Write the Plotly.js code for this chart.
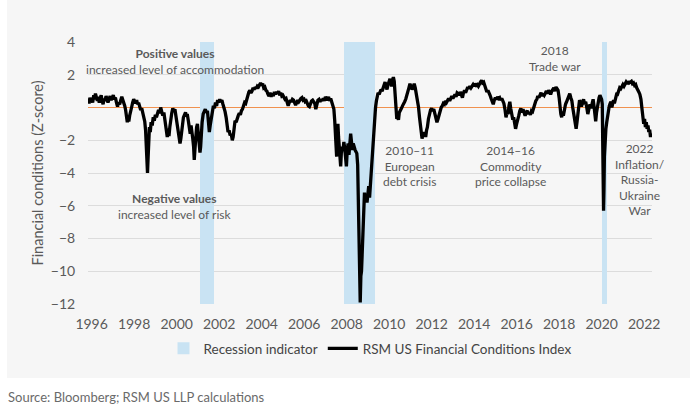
<!DOCTYPE html>
<html>
<head>
<meta charset="utf-8">
<script src="https://cdn.plot.ly/plotly-3.0.1.min.js"></script>
<style>html,body{margin:0;padding:0;background:#fff;}#chart{width:700px;height:413px;}</style>
</head>
<body>
<div id="chart"></div>
<script>
// Recession periods (decimal years)
const recessionStart = [2001.12, 2007.86, 2020.04];
const recessionEnd   = [2001.78, 2009.32, 2020.25];

// RSM US Financial Conditions Index (decimal year, z-score)
const fciYear = [
1995.84,1995.88,1995.92,1995.96,1996.0,1996.05,1996.1,1996.14,1996.18,1996.22,1996.27,1996.31,1996.36,1996.4,1996.45,1996.5,1996.54,1996.59,1996.63,1996.68,1996.72,1996.77,1996.82,1996.87,1996.92,1996.97,1997.02,1997.07,1997.12,1997.17,1997.22,1997.27,1997.32,1997.37,1997.42,1997.47,1997.52,1997.56,
1997.6,1997.64,1997.68,1997.71,1997.75,1997.79,1997.84,1997.88,1997.93,1997.98,1998.02,1998.07,1998.12,1998.16,1998.21,1998.26,1998.31,1998.36,1998.41,1998.46,1998.5,1998.54,1998.57,1998.6,1998.63,1998.66,1998.69,1998.72,1998.76,1998.8,1998.85,1998.9,1998.95,1999.0,1999.05,1999.1,1999.15,1999.2,1999.25,1999.3,1999.35,1999.4,1999.44,1999.48,1999.52,1999.56,1999.6,1999.64,1999.68,1999.72,1999.77,1999.82,1999.87,1999.92,1999.96,
2000.0,2000.04,2000.08,2000.12,2000.16,2000.2,2000.24,2000.28,2000.32,2000.37,2000.42,2000.46,2000.5,2000.55,2000.6,2000.64,2000.68,2000.72,2000.76,2000.8,2000.83,2000.86,2000.9,2000.94,2000.98,2001.02,2001.06,2001.1,2001.13,2001.16,2001.2,2001.25,2001.3,2001.35,2001.4,2001.45,2001.5,2001.54,2001.58,2001.63,2001.68,2001.73,2001.78,2001.83,2001.88,2001.93,2001.98,
2002.03,2002.08,2002.13,2002.18,2002.23,2002.28,2002.33,2002.38,2002.42,2002.47,2002.52,2002.57,2002.62,2002.66,2002.7,2002.75,2002.8,2002.85,2002.9,2002.95,2003.0,2003.05,2003.1,2003.15,2003.2,2003.25,2003.3,2003.35,2003.4,2003.45,2003.5,2003.55,2003.6,2003.65,2003.7,2003.75,2003.8,2003.85,2003.9,2003.95,
2004.0,2004.05,2004.1,2004.15,2004.2,2004.25,2004.3,2004.35,2004.4,2004.45,2004.5,2004.55,2004.6,2004.65,2004.7,2004.75,2004.8,2004.85,2004.9,2004.95,2005.0,2005.05,2005.1,2005.15,2005.2,2005.25,2005.3,2005.35,2005.4,2005.45,2005.5,2005.55,2005.6,2005.65,2005.7,2005.75,2005.8,2005.85,2005.9,2005.95,
2006.0,2006.05,2006.1,2006.15,2006.2,2006.25,2006.3,2006.35,2006.4,2006.45,2006.5,2006.55,2006.6,2006.65,2006.7,2006.75,2006.8,2006.85,2006.9,2006.95,2007.0,2007.05,2007.1,2007.15,2007.2,2007.25,2007.3,2007.35,2007.4,2007.44,2007.47,2007.5,2007.53,2007.56,2007.59,2007.62,2007.65,2007.68,2007.72,2007.75,2007.79,2007.83,2007.87,2007.91,2007.95,2007.99,
2008.03,2008.07,2008.11,2008.15,2008.19,2008.23,2008.27,2008.31,2008.35,2008.4,2008.44,2008.48,2008.52,2008.55,2008.58,2008.61,2008.64,2008.67,2008.7,2008.73,2008.76,2008.8,2008.84,2008.88,2008.92,2008.96,2009.0,2009.04,2009.08,2009.12,2009.16,2009.2,2009.24,2009.28,2009.32,2009.36,2009.4,2009.44,2009.48,2009.53,2009.57,2009.62,2009.67,2009.72,2009.77,2009.81,2009.86,2009.9,2009.95,
2010.0,2010.04,2010.08,2010.12,2010.16,2010.2,2010.24,2010.28,2010.32,2010.36,2010.4,2010.44,2010.48,2010.53,2010.58,2010.63,2010.68,2010.73,2010.78,2010.83,2010.88,2010.93,2010.98,2011.03,2011.08,2011.13,2011.18,2011.23,2011.28,2011.33,2011.38,2011.43,2011.47,2011.51,2011.55,2011.59,2011.63,2011.67,2011.72,2011.76,2011.8,2011.85,2011.9,2011.95,
2012.0,2012.05,2012.1,2012.15,2012.2,2012.25,2012.3,2012.35,2012.4,2012.45,2012.5,2012.55,2012.6,2012.65,2012.7,2012.75,2012.8,2012.85,2012.9,2012.95,2013.0,2013.05,2013.1,2013.15,2013.2,2013.25,2013.3,2013.35,2013.4,2013.45,2013.5,2013.55,2013.6,2013.65,2013.7,2013.75,2013.8,2013.85,2013.9,2013.95,
2014.0,2014.05,2014.1,2014.15,2014.2,2014.25,2014.3,2014.35,2014.4,2014.45,2014.5,2014.55,2014.6,2014.65,2014.7,2014.75,2014.8,2014.85,2014.9,2014.95,2015.0,2015.05,2015.1,2015.15,2015.2,2015.25,2015.3,2015.35,2015.4,2015.45,2015.5,2015.55,2015.6,2015.64,2015.68,2015.72,2015.77,2015.82,2015.86,2015.9,2015.95,
2016.0,2016.05,2016.1,2016.15,2016.2,2016.25,2016.3,2016.35,2016.4,2016.45,2016.5,2016.55,2016.6,2016.65,2016.7,2016.75,2016.8,2016.85,2016.9,2016.95,2017.0,2017.05,2017.1,2017.15,2017.2,2017.25,2017.3,2017.35,2017.4,2017.45,2017.5,2017.55,2017.6,2017.65,2017.7,2017.75,2017.8,2017.85,2017.9,2017.95,
2018.0,2018.04,2018.08,2018.12,2018.16,2018.2,2018.25,2018.3,2018.35,2018.4,2018.45,2018.5,2018.55,2018.6,2018.64,2018.68,2018.72,2018.76,2018.8,2018.84,2018.88,2018.92,2018.96,2019.0,2019.05,2019.1,2019.15,2019.2,2019.25,2019.3,2019.35,2019.4,2019.45,2019.5,2019.55,2019.6,2019.64,2019.68,2019.72,2019.76,2019.8,2019.84,2019.88,2019.92,2019.96,
2020.0,2020.03,2020.05,2020.07,2020.09,2020.11,2020.13,2020.16,2020.2,2020.24,2020.28,2020.32,2020.36,2020.4,2020.44,2020.48,2020.52,2020.56,2020.6,2020.64,2020.68,2020.72,2020.76,2020.8,2020.85,2020.9,2020.95,
2021.0,2021.05,2021.1,2021.15,2021.2,2021.25,2021.3,2021.35,2021.4,2021.45,2021.5,2021.55,2021.6,2021.65,2021.7,2021.75,2021.8,2021.85,2021.9,2021.94,2021.98,2022.02,2022.06,2022.1,2022.14,2022.18,2022.22,2022.26,2022.3,2022.33,2022.36
];
const fciValue = [
0.45,0.25,0.6,0.35,0.55,0.3,0.75,0.5,0.85,0.55,0.4,0.65,0.3,0.55,0.75,0.4,0.2,0.55,0.4,0.7,0.55,0.3,0.5,0.7,0.45,0.6,0.75,0.5,0.6,0.3,0.05,0.3,0.2,0.45,0.65,0.45,0.3,0.1,
-0.15,-0.5,-0.9,-0.6,-0.85,-0.5,-0.3,0.0,0.3,0.5,0.4,0.25,0.45,0.2,0.3,0.05,-0.15,-0.05,-0.3,-0.55,-0.85,-1.4,-2.3,-3.2,-4.0,-3.0,-2.0,-1.2,-1.5,-0.9,-1.1,-0.6,-0.8,-0.45,-0.6,-0.3,-0.15,-0.35,0.0,-0.25,-0.5,-0.3,-0.7,-1.1,-1.5,-1.8,-1.3,-1.75,-1.2,-0.7,-0.35,-0.05,-0.25,-0.1,-0.45,
-0.6,-0.9,-1.4,-1.8,-2.2,-1.9,-1.5,-0.9,-0.6,-0.45,-0.3,-0.55,-0.4,-0.8,-1.2,-1.6,-1.1,-1.4,-1.9,-2.4,-3.2,-2.6,-1.8,-1.2,-1.0,-1.6,-2.2,-2.75,-2.4,-1.6,-0.9,-0.4,-0.2,-0.1,-0.3,-0.2,-0.9,-1.5,-1.1,-0.6,-0.3,0.1,-0.05,0.3,0.1,0.45,0.3,
0.5,0.35,0.45,0.2,0.0,-0.25,-0.6,-1.2,-1.5,-1.4,-1.7,-1.6,-2.0,-1.8,-1.3,-0.8,-0.9,-0.6,-0.5,-0.35,-0.45,-0.2,-0.1,0.1,0.3,0.25,0.55,0.75,0.95,1.05,0.9,1.0,1.2,1.1,1.25,1.15,1.3,1.25,1.4,1.5,
1.35,1.45,1.2,1.25,1.05,1.0,0.8,0.7,0.9,0.65,0.85,0.7,0.95,0.8,0.95,0.85,1.0,0.75,0.9,0.7,0.75,0.6,0.5,0.55,0.3,0.1,0.3,0.45,0.35,0.5,0.45,0.3,0.15,0.3,0.45,0.35,0.5,0.55,0.6,0.45,
0.5,0.35,0.4,0.2,0.1,0.05,0.25,0.4,0.45,0.3,0.25,-0.1,0.2,0.45,0.5,0.35,0.5,0.4,0.55,0.4,0.65,0.5,0.45,0.65,0.4,0.55,0.3,0.15,-0.1,-0.8,-1.8,-2.6,-3.0,-1.4,-1.0,-1.8,-2.3,-3.0,-3.6,-2.8,-2.4,-2.6,-2.1,-2.5,-3.0,-3.6,
-2.6,-2.2,-2.9,-1.9,-1.6,-2.1,-2.6,-2.2,-2.5,-2.6,-2.7,-2.8,-3.5,-5.5,-8.0,-10.5,-11.9,-10.3,-10.0,-9.0,-7.5,-6.3,-5.2,-5.7,-5.4,-5.8,-5.2,-4.8,-5.5,-4.6,-3.8,-2.8,-1.9,-1.1,-0.5,0.0,0.4,0.7,0.9,0.8,1.0,1.1,1.0,1.2,1.5,1.55,1.3,1.1,1.4,
1.55,1.75,1.5,1.3,1.7,1.85,1.6,0.6,-0.3,-0.7,-0.55,-0.75,-0.3,-0.2,-0.05,0.1,0.2,0.35,0.5,0.8,0.95,1.2,1.45,1.3,1.1,1.25,1.45,1.2,0.85,0.4,0.05,-0.6,-1.2,-1.6,-1.9,-1.6,-1.75,-1.5,-1.8,-1.4,-1.2,-0.7,-0.3,-0.15,
-0.05,-0.2,-0.1,-0.35,-0.55,-0.9,-0.7,-0.4,-0.2,0.0,0.1,0.25,0.2,0.4,0.3,0.45,0.55,0.4,0.6,0.7,0.55,0.75,0.8,0.65,0.9,0.85,0.75,0.95,0.7,0.6,0.9,1.05,0.9,1.1,1.25,1.15,1.3,1.2,1.35,1.4,
1.3,1.45,1.35,1.4,1.3,1.5,1.55,1.65,1.5,1.55,1.3,1.1,0.95,1.05,0.8,0.75,0.55,0.35,0.2,0.45,0.6,0.5,0.65,0.55,0.6,0.45,0.55,0.4,0.25,-0.1,-0.6,-0.3,-0.4,0.1,0.35,-0.05,-0.4,-0.75,-0.6,-0.9,-1.3,
-1.0,-0.8,-0.5,-0.2,-0.05,-0.3,-0.1,-0.3,-0.5,-0.3,-0.2,-0.4,-0.3,-0.45,-0.2,-0.25,0.0,0.3,0.4,0.5,0.7,0.6,0.75,0.9,0.7,0.85,0.75,0.9,1.0,0.85,1.05,0.95,0.8,1.0,1.1,1.2,1.0,1.25,1.15,1.05,
0.6,0.0,-0.4,-0.6,-0.25,-0.5,-0.1,0.2,0.35,0.5,0.75,0.85,0.6,0.4,0.0,-0.3,-0.6,-0.9,-1.3,-0.9,-0.4,0.1,0.45,0.3,0.05,0.3,0.5,0.2,0.35,0.0,-0.4,-0.1,0.2,-0.05,0.3,0.5,0.1,-0.6,-0.85,-0.3,0.1,0.4,0.6,0.75,0.65,
0.5,0.2,-1.5,-4.0,-6.3,-5.0,-3.0,-1.8,-1.3,-0.9,-0.5,-0.2,0.1,0.25,0.35,0.0,0.2,0.45,0.25,0.5,0.7,0.9,0.85,1.1,1.2,1.15,1.3,
1.4,1.3,1.5,1.55,1.45,1.6,1.5,1.55,1.6,1.45,1.5,1.35,1.4,1.2,1.1,0.95,0.8,0.5,-0.1,-0.6,-1.0,-0.7,-1.2,-0.9,-1.3,-1.1,-1.5,-1.35,-1.8,-1.6,-1.8
];

const yTicks = [4, 2, -2, -4, -6, -8, -10, -12];
const xTicks = [1996,1998,2000,2002,2004,2006,2008,2010,2012,2014,2016,2018,2020,2022];

const axisMin = -12, axisMax = 4;
const recCenter = recessionStart.map((s, i) => (s + recessionEnd[i]) / 2);
const recWidth = recessionStart.map((s, i) => recessionEnd[i] - s);

const FONT = 'Lato, "Open Sans", sans-serif';
const GRAY = '#5a5a5a';

const traces = [
  {
    type: 'bar', name: 'Recession indicator',
    x: recCenter, width: recWidth,
    y: recCenter.map(() => axisMax - axisMin), base: axisMin,
    marker: {color: '#c9e3f3', line: {width: 0}},
    hoverinfo: 'skip'
  },
  {
    type: 'scatter', mode: 'lines', name: 'RSM US Financial Conditions Index',
    x: fciYear, y: fciValue,
    line: {color: '#000000', width: 3.3, shape: 'linear'}
  }
];

function ann(x, y, text) {
  return {x: x, y: y, xref: 'x', yref: 'y', text: text,
    showarrow: false, font: {family: FONT, size: 12, color: GRAY}, align: 'center'};
}

const layout = {
  width: 700, height: 413,
  margin: {l: 88, r: 48, t: 42, b: 109},
  paper_bgcolor: '#ffffff',
  plot_bgcolor: 'rgba(0,0,0,0)',
  font: {family: FONT, color: GRAY},
  showlegend: true,
  bargap: 0,
  legend: {orientation: 'h', x: 0.5, xanchor: 'center', y: -0.17, yanchor: 'middle',
    font: {family: FONT, size: 13.5, color: '#444'}, bgcolor: 'rgba(0,0,0,0)', traceorder: 'normal'},
  xaxis: {
    range: [1995.83, 2022.37], tickvals: xTicks, ticktext: xTicks.map(String),
    showgrid: false, zeroline: false, showline: false,
    ticks: 'outside', ticklen: 7, tickcolor: 'rgba(0,0,0,0)',
    tickfont: {family: FONT, size: 14, color: GRAY}
  },
  yaxis: {
    range: [axisMin, axisMax], tickvals: yTicks,
    showgrid: true, gridcolor: '#dcdcdc', gridwidth: 1,
    zeroline: true, zerolinecolor: '#f0914f', zerolinewidth: 1.5,
    showline: false, ticks: 'outside', ticklen: 9, tickcolor: 'rgba(0,0,0,0)',
    tickfont: {family: FONT, size: 14, color: GRAY},
    title: {text: 'Financial conditions (Z-score)', font: {family: FONT, size: 14.5, color: GRAY}, standoff: 3}
  },
  shapes: [
    {type: 'rect', xref: 'paper', yref: 'paper', x0: -0.1436, x1: 1.0674, y0: -0.282, y1: 1.17,
     fillcolor: '#f6f6f6', line: {width: 0}, layer: 'below'}
  ],
  annotations: [
    ann(1999.92, 2.8, '<b>Positive values</b><br>increased level of accommodation'),
    ann(1999.92, -6.05, '<b>Negative values</b><br>increased level of risk'),
    ann(2010.94, -3.6, '2010–11<br>European<br>debt crisis'),
    ann(2015.73, -3.6, '2014–16<br>Commodity<br>price collapse'),
    ann(2017.81, 2.98, '2018<br>Trade war'),
    ann(2021.81, -4.42, '2022<br>Inflation/<br>Russia-<br>Ukraine<br>War'),
    {xref: 'paper', yref: 'paper', x: -0.145, y: -0.355, xanchor: 'left', yanchor: 'middle',
     text: 'Source: Bloomberg; RSM US LLP calculations', showarrow: false,
     font: {family: FONT, size: 13, color: '#6a6a6a'}}
  ]
};

Plotly.newPlot('chart', traces, layout, {displayModeBar: false, staticPlot: true});
</script>
</body>
</html>
